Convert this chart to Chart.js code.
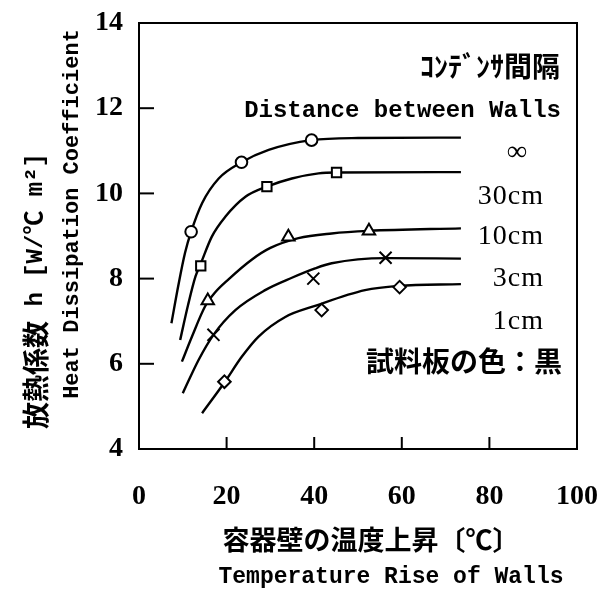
<!DOCTYPE html>
<html>
<head>
<meta charset="utf-8">
<script src="https://cdn.jsdelivr.net/npm/chart.js@4/dist/chart.umd.min.js"></script>
<style>
  html, body { margin: 0; padding: 0; background: #fff; }
  #wrap { width: 606px; height: 592px; }
</style>
</head>
<body>
<div id="wrap"><canvas id="c" width="606" height="592"></canvas></div>
<script>
// Wall temperature rise [°C] vs heat dissipation coefficient h [W/°C m²]
// for several distances between walls.
const seriesLabels = ['∞', '30cm', '10cm', '3cm', '1cm'];
const markerStyles = ['circle', 'rect', 'triangle', 'crossRot', 'rectRot'];

// fitted curves
const curveInfX  = [7.4, 9.0, 10.5, 11.9, 14.4, 18.2, 23.4, 29.6, 39.3, 50.0, 73.5];
const curveInfY  = [6.95, 7.85, 8.60, 9.10, 9.77, 10.35, 10.73, 11.02, 11.25, 11.30, 11.31];
const curve30X   = [9.4, 11.2, 12.9, 14.1, 16.6, 19.7, 24.3, 29.2, 34.9, 41.0, 45.1, 73.5];
const curve30Y   = [6.56, 7.38, 8.05, 8.35, 8.98, 9.45, 9.92, 10.16, 10.35, 10.47, 10.49, 10.50];
const curve10X   = [9.8, 12.1, 15.1, 17.4, 20.5, 25.8, 30.0, 36.4, 44.0, 52.5, 73.5];
const curve10Y   = [6.05, 6.64, 7.35, 7.68, 7.99, 8.45, 8.72, 8.95, 9.06, 9.12, 9.18];
const curve3X    = [10.0, 13.6, 17.0, 22.0, 28.8, 34.9, 40.2, 44.0, 56.3, 73.5];
const curve3Y    = [5.31, 6.09, 6.68, 7.26, 7.73, 8.02, 8.24, 8.36, 8.48, 8.47];
const curve1X    = [14.4, 19.5, 23.5, 27.3, 33.4, 40.2, 51.6, 59.2, 73.5];
const curve1Y    = [4.84, 5.56, 6.17, 6.64, 7.10, 7.36, 7.73, 7.83, 7.87];

// measured points
const measInfX = [11.9, 23.4, 39.4];  const measInfY = [9.10, 10.73, 11.25];
const meas30X  = [14.1, 29.2, 45.1];  const meas30Y  = [8.30, 10.16, 10.49];
const meas10X  = [15.7, 34.1, 52.5];  const meas10Y  = [7.48, 8.98, 9.12];
const meas3X   = [17.0, 39.8, 56.3];  const meas3Y   = [6.68, 8.00, 8.49];
const meas1X   = [19.5, 41.7, 59.5];  const meas1Y   = [5.58, 7.26, 7.80];

const xTicks = [0, 20, 40, 60, 80, 100];
const yTicks = [4, 6, 8, 10, 12, 14];

const curvesX = [curveInfX, curve30X, curve10X, curve3X, curve1X];
const curvesY = [curveInfY, curve30Y, curve10Y, curve3Y, curve1Y];
const measX = [measInfX, meas30X, meas10X, meas3X, meas1X];
const measY = [measInfY, meas30Y, meas10Y, meas3Y, meas1Y];

const pts = (xs, ys) => xs.map((x, i) => ({ x, y: ys[i] }));

const datasets = [];
seriesLabels.forEach((lab, i) => {
  datasets.push({
    label: lab,
    data: pts(curvesX[i], curvesY[i]),
    showLine: true,
    borderColor: '#000',
    borderWidth: 2.4,
    pointRadius: 0,
    cubicInterpolationMode: 'monotone',
    fill: false,
    order: 2
  });
});
const markerRadius = [5.8, 6.6, 7.2, 8.5, 6.3];
seriesLabels.forEach((lab, i) => {
  datasets.push({
    label: lab + ' (measured)',
    data: pts(measX[i], measY[i]),
    showLine: false,
    pointStyle: markerStyles[i],
    pointRadius: markerRadius[i],
    pointBorderWidth: 2,
    pointBorderColor: '#000',
    pointBackgroundColor: '#fff',
    order: 1
  });
});

const SERIF = '"Liberation Serif", "Times New Roman", serif';
const MONO = '"Liberation Mono", "Noto Sans CJK JP", monospace';
const CJK = '"Noto Sans CJK JP", "Noto Sans CJK SC", sans-serif';

// keep the plot box exactly where the layout padding puts it
const noScalePadding = s => {
  s.paddingLeft = 0; s.paddingRight = 0; s.paddingTop = 0; s.paddingBottom = 0;
};

const framePlugin = {
  id: 'frame',
  afterDraw(chart) {
    const { ctx, chartArea: a, scales } = chart;
    const xs = scales.x, ys = scales.y;
    ctx.save();
    ctx.strokeStyle = '#000';
    ctx.lineWidth = 2;
    ctx.strokeRect(a.left, a.top, a.right - a.left, a.bottom - a.top);
    // inner tick marks
    ys.ticks.forEach(t => {
      if (t.value <= ys.min || t.value >= ys.max) return;
      const py = ys.getPixelForValue(t.value);
      ctx.beginPath(); ctx.moveTo(a.left, py); ctx.lineTo(a.left + 15, py); ctx.stroke();
    });
    xs.ticks.forEach(t => {
      if (t.value <= xs.min || t.value >= xs.max) return;
      const px = xs.getPixelForValue(t.value);
      ctx.beginPath(); ctx.moveTo(px, a.bottom); ctx.lineTo(px, a.bottom - 12); ctx.stroke();
    });

    ctx.fillStyle = '#000';
    ctx.textBaseline = 'middle';

    // annotations inside the plot
    ctx.textAlign = 'right';
    ctx.font = 'bold 28px ' + CJK;
    ctx.fillText('ｺﾝﾃﾞﾝｻ間隔', 560, 66);
    ctx.font = 'bold 24px ' + MONO;
    ctx.fillText('Distance between Walls', 561, 111);
    ctx.font = 'bold 28px ' + SERIF;
    ctx.textAlign = 'center';
    ctx.fillText(seriesLabels[0], 517, 153);
    ctx.font = '28px ' + SERIF;
    ctx.textAlign = 'right';
    ctx.letterSpacing = '1px';
    const labY = [197, 237, 279, 322];
    for (let i = 1; i < seriesLabels.length; i++) {
      ctx.fillText(seriesLabels[i], 544, labY[i - 1]);
    }
    ctx.letterSpacing = '0px';
    ctx.font = 'bold 28px ' + CJK;
    ctx.fillText('試料板の色：黒', 562, 361);

    // x-axis titles
    ctx.textAlign = 'center';
    ctx.font = 'bold 27px ' + CJK;
    ctx.fillText('容器壁の温度上昇〔℃〕', 371, 540);
    ctx.font = 'bold 23px ' + MONO;
    ctx.fillText('Temperature Rise of Walls', 391, 577);

    // y-axis titles (rotated, read bottom to top)
    const partA = '放熱係数', partB = ' h [W/℃ m²]';
    const fontA = 'bold 27px ' + CJK, fontB = 'bold 24px ' + MONO;
    ctx.font = fontA; const wA = ctx.measureText(partA).width;
    ctx.font = fontB; const wB = ctx.measureText(partB).width;
    ctx.save();
    ctx.translate(36, 291);
    ctx.rotate(-Math.PI / 2);
    ctx.textAlign = 'left';
    const start = -(wA + wB) / 2;
    ctx.font = fontA; ctx.fillText(partA, start, 0);
    ctx.font = fontB; ctx.fillText(partB, start + wA, 0);
    ctx.restore();
    ctx.save();
    ctx.translate(72, 214);
    ctx.rotate(-Math.PI / 2);
    ctx.textAlign = 'center';
    ctx.font = 'bold 22px ' + MONO;
    ctx.fillText('Heat Dissipation Coefficient', 0, 0);
    ctx.restore();

    ctx.restore();
  }
};

new Chart(document.getElementById('c'), {
  type: 'scatter',
  data: { datasets },
  options: {
    responsive: false,
    animation: false,
    events: [],
    layout: { autoPadding: false, padding: { left: 0, top: 23, right: 29, bottom: 0 } },
    plugins: { legend: { display: false }, tooltip: { enabled: false } },
    scales: {
      x: {
        type: 'linear', min: 0, max: 100,
        afterBuildTicks: s => { s.ticks = xTicks.map(v => ({ value: v })); },
        afterFit: s => { s.height = 143; noScalePadding(s); },
        grid: { display: false, drawTicks: false },
        border: { display: false },
        ticks: { color: '#000', padding: 31, font: { family: SERIF, size: 28, weight: 'bold' } }
      },
      y: {
        type: 'linear', min: 4, max: 14,
        afterBuildTicks: s => { s.ticks = yTicks.map(v => ({ value: v })); },
        afterFit: s => { s.width = 139; noScalePadding(s); },
        grid: { display: false, drawTicks: false },
        border: { display: false },
        ticks: { color: '#000', padding: 16, font: { family: SERIF, size: 28, weight: 'bold' } }
      }
    }
  },
  plugins: [framePlugin]
});
</script>
</body>
</html>
